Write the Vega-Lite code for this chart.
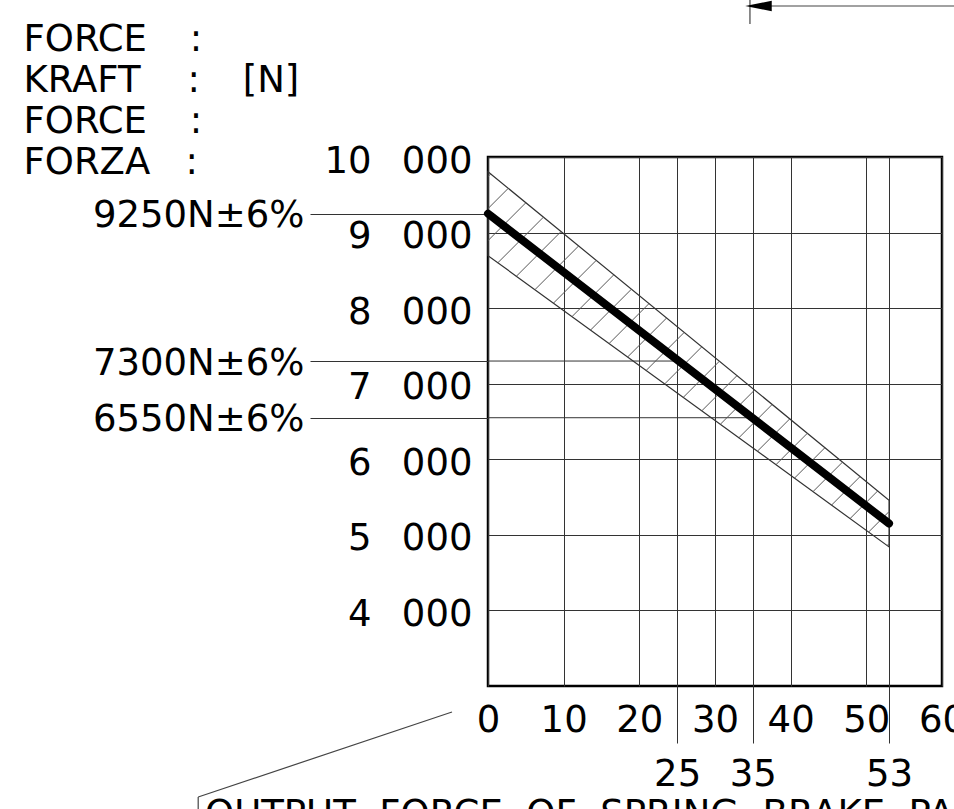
{
  "$schema": "https://vega.github.io/schema/vega-lite/v6.json",
  "width": 454,
  "height": 529,
  "autosize": {"type": "none"},
  "padding": {"left": 488, "top": 157, "right": 12, "bottom": 123},
  "background": "white",
  "config": {
    "view": {"stroke": "black", "strokeWidth": 2.5},
    "font": "DejaVu Sans",
    "axis": {
      "labelFont": "DejaVu Sans",
      "labelFontSize": 37,
      "labelColor": "black",
      "titleFont": "DejaVu Sans",
      "domain": false,
      "gridColor": "#333",
      "gridWidth": 1,
      "gridOpacity": 1,
      "tickColor": "#333",
      "tickWidth": 1,
      "labelFlush": false,
      "labelOverlap": false,
      "labelBound": false,
      "labelLimit": 0
    }
  },
  "datasets": {
    "band": [
      {"d": 0, "lo": 8695, "hi": 9805},
      {"d": 53, "lo": 4841, "hi": 5459}
    ],
    "main": [
      {"d": 0, "f": 9250},
      {"d": 53, "f": 5150}
    ],
    "refs": [
      {"d0": 0, "d1": 25, "f": 7300},
      {"d0": 0, "d1": 35, "f": 6550}
    ],
    "hatch": [
      {"x1": -6.05, "y1": 9135.0, "x2": 0.353, "y2": 9776.1},
      {"x1": -3.60, "y1": 8956.8, "x2": 2.678, "y2": 9585.4},
      {"x1": -1.15, "y1": 8778.6, "x2": 5.003, "y2": 9394.7},
      {"x1": 1.30, "y1": 8600.5, "x2": 7.328, "y2": 9204.1},
      {"x1": 3.75, "y1": 8422.3, "x2": 9.653, "y2": 9013.4},
      {"x1": 6.20, "y1": 8244.2, "x2": 11.978, "y2": 8822.8},
      {"x1": 8.65, "y1": 8066.0, "x2": 14.304, "y2": 8632.1},
      {"x1": 11.10, "y1": 7887.8, "x2": 16.629, "y2": 8441.4},
      {"x1": 13.55, "y1": 7709.7, "x2": 18.954, "y2": 8250.8},
      {"x1": 16.00, "y1": 7531.5, "x2": 21.279, "y2": 8060.1},
      {"x1": 18.45, "y1": 7353.4, "x2": 23.604, "y2": 7869.5},
      {"x1": 20.90, "y1": 7175.2, "x2": 25.929, "y2": 7678.8},
      {"x1": 23.35, "y1": 6997.0, "x2": 28.254, "y2": 7488.1},
      {"x1": 25.80, "y1": 6818.9, "x2": 30.579, "y2": 7297.5},
      {"x1": 28.25, "y1": 6640.7, "x2": 32.904, "y2": 7106.8},
      {"x1": 30.70, "y1": 6462.6, "x2": 35.229, "y2": 6916.2},
      {"x1": 33.15, "y1": 6284.4, "x2": 37.555, "y2": 6725.5},
      {"x1": 35.60, "y1": 6106.2, "x2": 39.880, "y2": 6534.8},
      {"x1": 38.05, "y1": 5928.1, "x2": 42.205, "y2": 6344.2},
      {"x1": 40.50, "y1": 5749.9, "x2": 44.530, "y2": 6153.5},
      {"x1": 42.95, "y1": 5571.8, "x2": 46.855, "y2": 5962.9},
      {"x1": 45.40, "y1": 5393.6, "x2": 49.180, "y2": 5772.2},
      {"x1": 47.85, "y1": 5215.4, "x2": 51.505, "y2": 5581.5},
      {"x1": 50.30, "y1": 5037.3, "x2": 53.0, "y2": 5307.7},
      {"x1": 52.75, "y1": 4859.1, "x2": 53.0, "y2": 4884.1}
    ],
    "segs": [
      {"x1": 34.62, "y1": 12078, "x2": 34.62, "y2": 11760},
      {"x1": 34.62, "y1": 11998, "x2": 62, "y2": 11998},
      {"x1": -4.76, "y1": 2656, "x2": -38.3, "y2": 1531},
      {"x1": -38.3, "y1": 1531, "x2": -38.3, "y2": 1200}
    ],
    "arrow": [
      {"x": 35.75, "y": 11998}
    ],
    "notes": [
      {"x": -37.4, "y": 1147, "label": "OUTPUT\u00a0 FORCE\u00a0 OF\u00a0 SPRING\u00a0 BRAKE\u00a0 PA"}
    ]
  },
  "resolve": {"axis": {"x": "independent", "y": "independent"}},
  "layer": [
    {
      "data": {"name": "band"},
      "mark": {"type": "area", "fillOpacity": 0, "stroke": "#333", "strokeWidth": 1.2},
      "encoding": {
        "x": {
          "field": "d", "type": "quantitative",
          "scale": {"domain": [0, 60], "nice": false, "zero": false},
          "axis": {
            "orient": "bottom", "values": [0, 10, 20, 30, 40, 50, 60], "format": "d",
            "ticks": false, "tickSize": 0, "labelPadding": 16, "grid": true, "title": null
          }
        },
        "y": {
          "field": "hi", "type": "quantitative",
          "scale": {"domain": [3000, 10000], "nice": false, "zero": false},
          "axis": {
            "orient": "left", "values": [4000, 5000, 6000, 7000, 8000, 9000, 10000],
            "labelExpr": "replace(format(datum.value, ','), ',', '\u2002\u00a0')",
            "ticks": false, "tickSize": 0, "labelPadding": 16, "labelOffset": 4, "grid": true,
            "title": ["FORCE\u00a0\u00a0\u00a0\u2009:", "KRAFT\u00a0\u00a0\u00a0\u00a0:\u00a0\u00a0\u00a0\u2009[N]", "FORCE\u00a0\u00a0\u00a0\u2009:", "FORZA\u00a0\u00a0\u00a0:"],
            "titleFontSize": 37, "titleFontWeight": "normal", "titleColor": "black",
            "titleAngle": 0, "titleAlign": "left", "titleBaseline": "alphabetic",
            "titleX": -465, "titleY": -107, "titleLineHeight": 41
          }
        },
        "y2": {"field": "lo"}
      }
    },
    {
      "data": {"name": "refs"},
      "mark": {"type": "rule", "stroke": "#333", "strokeWidth": 1},
      "encoding": {
        "x": {
          "field": "d0", "type": "quantitative",
          "scale": {"domain": [0, 60], "nice": false, "zero": false},
          "axis": {
            "orient": "bottom", "values": [25, 35, 53], "format": "d",
            "ticks": true, "tickSize": 57, "labelPadding": 13, "grid": true, "title": null
          }
        },
        "x2": {"field": "d1"},
        "y": {
          "field": "f", "type": "quantitative",
          "scale": {"domain": [3000, 10000], "nice": false, "zero": false},
          "axis": {
            "orient": "left", "values": [9250, 7300, 6550],
            "labelExpr": "datum.value + 'N±6%'",
            "ticks": true, "tickSize": 178, "labelPadding": 6, "labelOffset": 2, "grid": false, "title": null
          }
        }
      }
    },
    {
      "data": {"name": "hatch"},
      "mark": {"type": "rule", "stroke": "#555", "strokeWidth": 1, "clip": true},
      "encoding": {
        "x": {"field": "x1", "type": "quantitative", "scale": {"domain": [0, 60], "nice": false, "zero": false}, "axis": null},
        "x2": {"field": "x2"},
        "y": {"field": "y1", "type": "quantitative", "scale": {"domain": [3000, 10000], "nice": false, "zero": false}, "axis": null},
        "y2": {"field": "y2"}
      }
    },
    {
      "data": {"name": "main"},
      "mark": {"type": "line", "color": "black", "strokeWidth": 8, "strokeCap": "round"},
      "encoding": {
        "x": {"field": "d", "type": "quantitative", "scale": {"domain": [0, 60], "nice": false, "zero": false}, "axis": null},
        "y": {"field": "f", "type": "quantitative", "scale": {"domain": [3000, 10000], "nice": false, "zero": false}, "axis": null}
      }
    },
    {
      "data": {"name": "segs"},
      "mark": {"type": "rule", "stroke": "#444", "strokeWidth": 1.2},
      "encoding": {
        "x": {"field": "x1", "type": "quantitative", "scale": {"domain": [0, 60], "nice": false, "zero": false}, "axis": null},
        "x2": {"field": "x2"},
        "y": {"field": "y1", "type": "quantitative", "scale": {"domain": [3000, 10000], "nice": false, "zero": false}, "axis": null},
        "y2": {"field": "y2"}
      }
    },
    {
      "data": {"name": "arrow"},
      "mark": {"type": "point", "shape": "M -1 0 L 1 -0.4 L 1 0.4 Z", "size": 700, "filled": true, "color": "black", "opacity": 1},
      "encoding": {
        "x": {"field": "x", "type": "quantitative", "scale": {"domain": [0, 60], "nice": false, "zero": false}, "axis": null},
        "y": {"field": "y", "type": "quantitative", "scale": {"domain": [3000, 10000], "nice": false, "zero": false}, "axis": null}
      }
    },
    {
      "data": {"name": "notes"},
      "mark": {"type": "text", "font": "DejaVu Sans", "fontSize": 37, "align": "left", "baseline": "alphabetic", "color": "black"},
      "encoding": {
        "x": {"field": "x", "type": "quantitative", "scale": {"domain": [0, 60], "nice": false, "zero": false}, "axis": null},
        "y": {"field": "y", "type": "quantitative", "scale": {"domain": [3000, 10000], "nice": false, "zero": false}, "axis": null},
        "text": {"field": "label"}
      }
    }
  ]
}
